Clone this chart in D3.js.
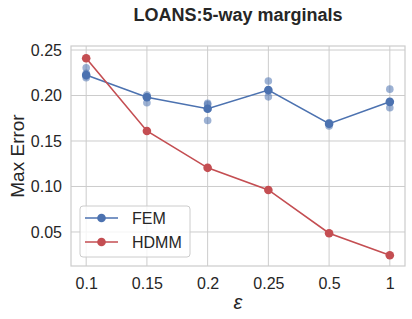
<!DOCTYPE html>
<html>
<head>
<meta charset="utf-8">
<script src="https://cdn.jsdelivr.net/npm/d3@7"></script>
<style>
  body { margin: 0; background: #fff; }
  text { font-family: "Liberation Sans", Arial, sans-serif; fill: #262626; }
</style>
</head>
<body>
<div class="chart"></div>
<script>
// Chart data
var epsilons = ["0.1", "0.15", "0.2", "0.25", "0.5", "1"];
var femMean = [0.2225, 0.198, 0.1855, 0.2060, 0.1690, 0.1930];
var femRuns = [
  [0.2305, 0.2245, 0.2195, 0.2215],
  [0.2005, 0.1985, 0.1920],
  [0.1915, 0.1900, 0.1725],
  [0.2160, 0.2050, 0.1985],
  [0.1700, 0.1690, 0.1665],
  [0.2070, 0.1930, 0.1865]
];
var hdmm = [0.2410, 0.1610, 0.1205, 0.0962, 0.0486, 0.0244];
var yTicks = [0.05, 0.10, 0.15, 0.20, 0.25];

var svgWidth = 412;
var svgHeight = 319;
var margin = { top: 46, right: 7, bottom: 53, left: 71 };
var width = svgWidth - margin.left - margin.right;
var height = svgHeight - margin.top - margin.bottom;

var blue = "#4c72b0";
var red = "#c44e52";

var svg = d3.select(".chart")
  .append("svg")
  .attr("width", svgWidth)
  .attr("height", svgHeight);

var chartGroup = svg.append("g")
  .attr("transform", `translate(${margin.left}, ${margin.top})`);

// Scales
var xScale = d3.scalePoint().domain(epsilons).range([0, width]).padding(0.25);
var yScale = d3.scaleLinear().domain([0.0126, 0.2544]).range([height, 0]);

// Grid
chartGroup.append("g")
  .selectAll("line.vgrid")
  .data(epsilons)
  .enter()
  .append("line")
  .attr("x1", d => xScale(d)).attr("x2", d => xScale(d))
  .attr("y1", 0).attr("y2", height)
  .attr("stroke", "#cccccc").attr("stroke-width", 1);

chartGroup.append("g")
  .selectAll("line.hgrid")
  .data(yTicks)
  .enter()
  .append("line")
  .attr("x1", 0).attr("x2", width)
  .attr("y1", d => yScale(d)).attr("y2", d => yScale(d))
  .attr("stroke", "#cccccc").attr("stroke-width", 1);

// Frame
chartGroup.append("rect")
  .attr("width", width).attr("height", height)
  .attr("fill", "none").attr("stroke", "#cccccc").attr("stroke-width", 1.2);

// Axes (labels only, seaborn style)
var xAxis = d3.axisBottom(xScale).tickSize(0).tickPadding(12);
var yAxis = d3.axisLeft(yScale).tickValues(yTicks).tickFormat(d3.format(".2f")).tickSize(0).tickPadding(9);

var gx = chartGroup.append("g").attr("transform", `translate(0, ${height})`).call(xAxis);
var gy = chartGroup.append("g").call(yAxis);
[gx, gy].forEach(g => {
  g.select(".domain").remove();
  g.selectAll("text").style("font-size", "16px").attr("fill", "#262626")
    .style("font-family", "Liberation Sans, Arial, sans-serif");
});

// FEM individual runs
femRuns.forEach((runs, i) => {
  chartGroup.append("g")
    .selectAll("circle")
    .data(runs)
    .enter()
    .append("circle")
    .attr("cx", xScale(epsilons[i]))
    .attr("cy", d => yScale(d))
    .attr("r", 3.8)
    .attr("fill", blue)
    .attr("opacity", 0.55);
});

// Lines
var line = d3.line()
  .x((d, i) => xScale(epsilons[i]))
  .y(d => yScale(d));

[[femMean, blue], [hdmm, red]].forEach(s => {
  chartGroup.append("path")
    .datum(s[0])
    .attr("d", line)
    .attr("fill", "none")
    .attr("stroke", s[1])
    .attr("stroke-width", 1.6);
  chartGroup.append("g")
    .selectAll("circle")
    .data(s[0])
    .enter()
    .append("circle")
    .attr("cx", (d, i) => xScale(epsilons[i]))
    .attr("cy", d => yScale(d))
    .attr("r", 4.3)
    .attr("fill", s[1]);
});

// Legend
var legend = chartGroup.append("g").attr("transform", "translate(9, 160)");
legend.append("rect")
  .attr("width", 110).attr("height", 51).attr("rx", 3)
  .attr("fill", "#ffffff").attr("fill-opacity", 0.8)
  .attr("stroke", "#cccccc").attr("stroke-width", 1);
[["FEM", blue], ["HDMM", red]].forEach((item, i) => {
  var row = legend.append("g").attr("transform", `translate(0, ${12 + i * 24})`);
  row.append("line").attr("x1", 5).attr("x2", 38).attr("y1", 0).attr("y2", 0)
    .attr("stroke", item[1]).attr("stroke-width", 1.6);
  row.append("circle").attr("cx", 21.5).attr("cy", 0).attr("r", 4.3).attr("fill", item[1]);
  row.append("text").attr("x", 52).attr("y", 6).style("font-size", "16px").text(item[0]);
});

// Axis labels and title
svg.append("text")
  .attr("transform", `translate(24, ${margin.top + height / 2}) rotate(-90)`)
  .attr("text-anchor", "middle")
  .style("font-size", "19px")
  .text("Max Error");

svg.append("text")
  .attr("x", margin.left + width / 2)
  .attr("y", 309)
  .attr("text-anchor", "middle")
  .style("font-size", "20px")
  .style("font-style", "italic")
  .text("ε");

svg.append("text")
  .attr("x", margin.left + width / 2)
  .attr("y", 21)
  .attr("text-anchor", "middle")
  .style("font-size", "18px")
  .style("font-weight", "bold")
  .text("LOANS:5-way marginals");
</script>
</body>
</html>
